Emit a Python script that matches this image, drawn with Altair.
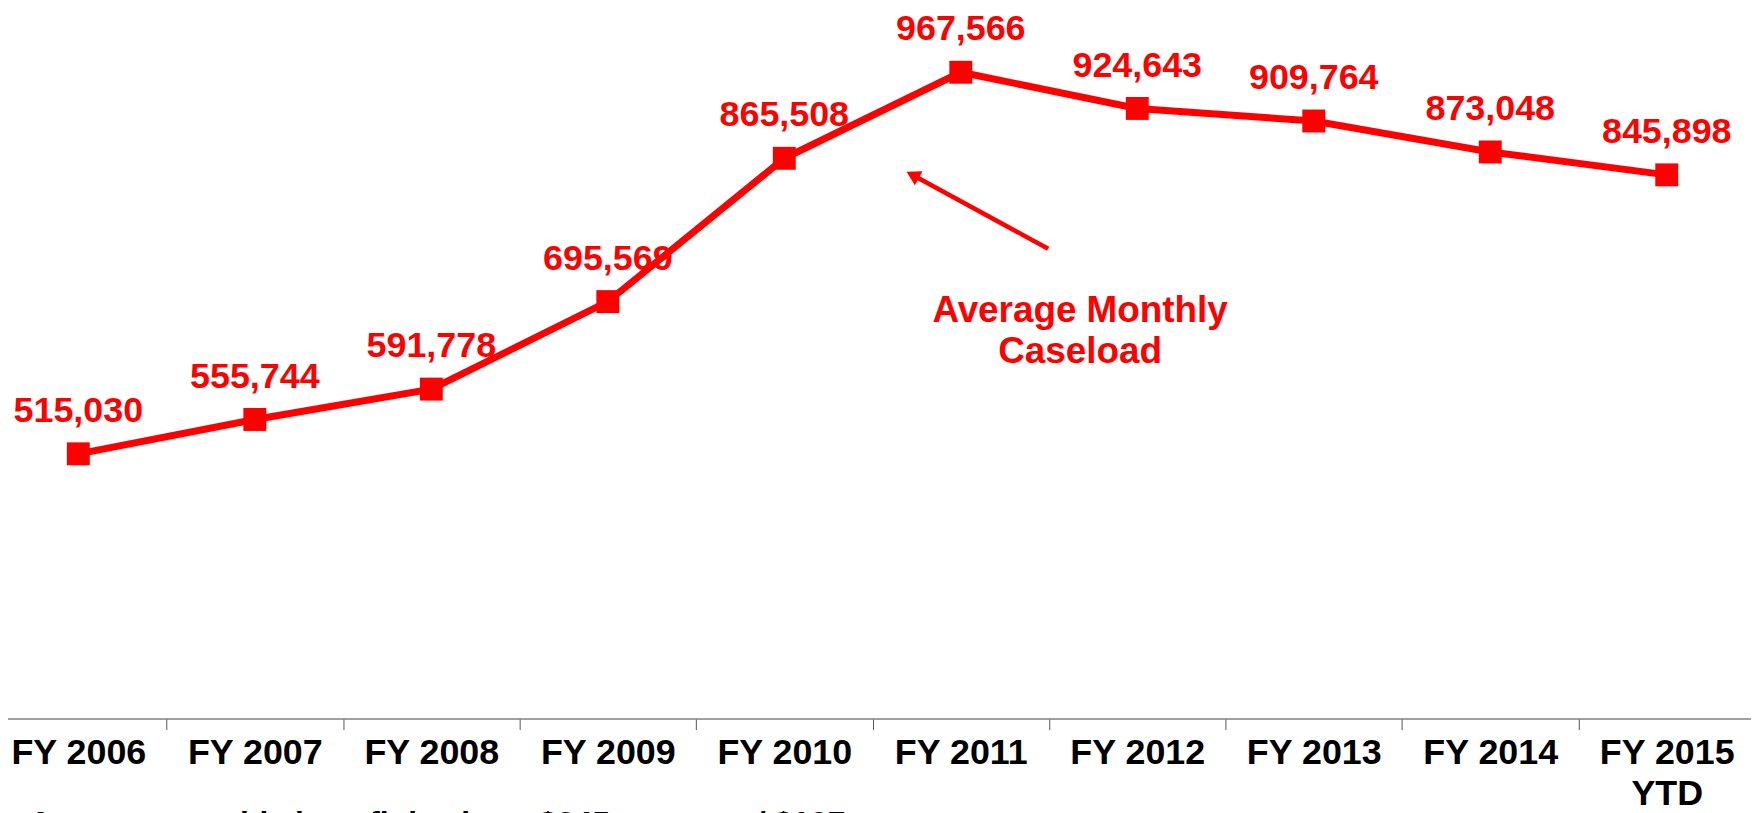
import altair as alt
import pandas as pd

# ---- data ----
years = ["FY 2006", "FY 2007", "FY 2008", "FY 2009", "FY 2010",
         "FY 2011", "FY 2012", "FY 2013", "FY 2014", "FY 2015\nYTD"]
caseload = [515030, 555744, 591778, 695569, 865508,
            967566, 924643, 909764, 873048, 845898]

# annotation anchors, in (category index, caseload) units
note_label = ["Average Monthly", "Caseload"]
note_pos = [5.676, 670880]
arrow_tail = [5.495, 758240]
arrow_tip = [4.727, 845620]
footnote = "Average monthly benefit is about $245 per case / $127 per person"
footnote_pos = [-0.280, 64050]

RED = "#FF0000"
FONT = "Liberation Sans"

df = pd.DataFrame({"year": years, "caseload": caseload})

W, H = 1751, 712
x_range = [-18, 1755]
y_scale = alt.Scale(domain=[201000, 1041600], zero=False, nice=False)

x_enc = alt.X("year:N", sort=years, title=None,
              scale=alt.Scale(range=x_range, paddingInner=0, paddingOuter=0),
              axis=alt.Axis(labelAngle=0, labelFont=FONT, labelFontSize=36,
                            labelFontWeight="bold", labelColor="#000000",
                            labelPadding=6, labelLineHeight=41,
                            labelExpr="split(datum.label, '\\n')",
                            labelOverlap=False, labelBound=False,
                            labelFlush=False,
                            domainColor="#808080", domainWidth=1.5,
                            tickColor="#555555", tickWidth=1, tickSize=11,
                            tickBand="extent", grid=False))
y_enc = alt.Y("caseload:Q", scale=y_scale, axis=None)

base = alt.Chart(df)
line = base.mark_line(color=RED, strokeWidth=7).encode(x=x_enc, y=y_enc)
pts = base.mark_point(shape="square", filled=True, opacity=1, color=RED,
                      size=530).encode(x=x_enc, y=y_enc)
labels = base.mark_text(color=RED, font=FONT, fontSize=36, fontWeight="bold",
                        dy=-32, baseline="alphabetic", align="center").encode(
    x=x_enc, y=y_enc, text=alt.Text("caseload:Q", format=","))
main = alt.layer(line, pts, labels)

xq = alt.Scale(domain=[-0.5, 9.5], range=x_range, nice=False, zero=False)

ann_text_df = pd.DataFrame({"u": [note_pos[0]], "v": [note_pos[1]],
                            "t": ["\n".join(note_label)]})
ann_text = alt.Chart(ann_text_df).mark_text(
    color=RED, font=FONT, fontSize=37, fontWeight="bold", align="center",
    baseline="alphabetic", lineBreak="\n", lineHeight=41).encode(
    x=alt.X("u:Q", scale=xq, axis=None),
    y=alt.Y("v:Q", scale=y_scale, axis=None), text="t:N")

arrow_df = pd.DataFrame({"u": [arrow_tail[0]], "v": [arrow_tail[1]],
                         "u2": [arrow_tip[0]], "v2": [arrow_tip[1]]})
arrow = alt.Chart(arrow_df).mark_rule(color=RED, strokeWidth=4.5).encode(
    x=alt.X("u:Q", scale=xq, axis=None), x2="u2:Q",
    y=alt.Y("v:Q", scale=y_scale, axis=None), y2="v2:Q")
head = alt.Chart(arrow_df).mark_point(
    shape="triangle-up", filled=True, opacity=1, color=RED, size=256,
    angle=298.5).encode(
    x=alt.X("u2:Q", scale=xq, axis=None),
    y=alt.Y("v2:Q", scale=y_scale, axis=None))

foot_df = pd.DataFrame({"u": [footnote_pos[0]], "v": [footnote_pos[1]],
                        "t": [footnote]})
foot = alt.Chart(foot_df).mark_text(
    color="#000000", font=FONT, fontSize=32, fontWeight="bold", align="left",
    baseline="alphabetic").encode(
    x=alt.X("u:Q", scale=xq, axis=None),
    y=alt.Y("v:Q", scale=y_scale, axis=None), text="t:N")

ann = alt.layer(arrow, head, ann_text, foot)

chart = alt.layer(main, ann).resolve_scale(x="independent").properties(
    width=W, height=H,
    autosize=alt.AutoSizeParams(type="none"),
    padding={"left": 0, "top": 0, "right": 0, "bottom": 93},
    background="#FFFFFF",
).configure_view(stroke=None)

chart.save("out.html", embed_options={"renderer": "svg", "actions": False})
